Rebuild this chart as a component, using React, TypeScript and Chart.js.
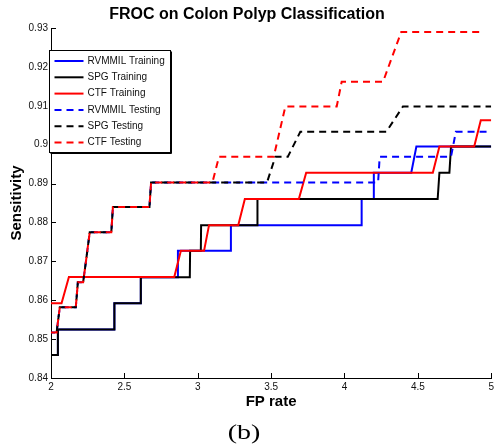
import { useEffect, useRef } from 'react';
import { Chart, registerables } from 'chart.js';

Chart.register(...registerables);

const titleText = 'FROC on Colon Polyp Classification';
const xAxisLabel = 'FP rate';
const yAxisLabel = 'Sensitivity';
const captionText = '(b)';

const seriesLabels = [
  'RVMMIL Training',
  'SPG Training',
  'CTF Training',
  'RVMMIL Testing',
  'SPG Testing',
  'CTF Testing',
];

const xTickValues = [2, 2.5, 3, 3.5, 4, 4.5, 5];
const xTickLabels = ['2', '2.5', '3', '3.5', '4', '4.5', '5'];
const yTickValues = [0.84, 0.85, 0.86, 0.87, 0.88, 0.89, 0.9, 0.91, 0.92, 0.93];
const yTickLabels = ['0.84', '0.85', '0.86', '0.87', '0.88', '0.89', '0.9', '0.91', '0.92', '0.93'];

const rvmmilTrainX = [2, 2.045, 2.047, 2.43, 2.432, 2.61, 2.612, 2.863, 2.865, 3.224, 3.226, 4.115, 4.117, 4.195, 4.2, 4.455, 4.49, 5];
const rvmmilTrainY = [0.8459, 0.8459, 0.8525, 0.8525, 0.8592, 0.8592, 0.8659, 0.8659, 0.8727, 0.8727, 0.8793, 0.8793, 0.886, 0.886, 0.8928, 0.8928, 0.8995, 0.8995];

const spgTrainX = [2, 2.045, 2.047, 2.43, 2.432, 2.61, 2.612, 2.946, 2.948, 3.021, 3.023, 3.405, 3.407, 4.635, 4.647, 4.715, 4.726, 5];
const spgTrainY = [0.8459, 0.8459, 0.8525, 0.8525, 0.8592, 0.8592, 0.8659, 0.8659, 0.8727, 0.8727, 0.8793, 0.8793, 0.886, 0.886, 0.8928, 0.8928, 0.8995, 0.8995];

const ctfTrainX = [2, 2.072, 2.122, 2.84, 2.885, 3.043, 3.077, 3.276, 3.321, 3.689, 3.739, 4.602, 4.647, 4.884, 4.929, 5];
const ctfTrainY = [0.8592, 0.8592, 0.866, 0.866, 0.8727, 0.8727, 0.8793, 0.8793, 0.886, 0.886, 0.8928, 0.8928, 0.8995, 0.8995, 0.9063, 0.9063];

const rvmmilTestX = [2, 2.038, 2.06, 2.169, 2.183, 2.219, 2.242, 2.264, 2.411, 2.422, 2.671, 2.682, 4.229, 4.24, 4.726, 4.759, 5];
const rvmmilTestY = [0.8517, 0.8517, 0.8582, 0.8582, 0.8646, 0.8646, 0.8711, 0.8775, 0.8775, 0.884, 0.884, 0.8903, 0.8903, 0.8969, 0.8969, 0.9033, 0.9033];

const spgTestX = [2, 2.038, 2.06, 2.169, 2.183, 2.219, 2.242, 2.264, 2.411, 2.422, 2.671, 2.682, 3.472, 3.529, 3.614, 3.699, 4.285, 4.398, 5];
const spgTestY = [0.8517, 0.8517, 0.8582, 0.8582, 0.8646, 0.8646, 0.8711, 0.8775, 0.8775, 0.884, 0.884, 0.8903, 0.8903, 0.8969, 0.8969, 0.9033, 0.9033, 0.9098, 0.9098];

const ctfTestX = [2, 2.038, 2.06, 2.169, 2.183, 2.219, 2.242, 2.264, 2.411, 2.422, 2.671, 2.682, 3.1, 3.145, 3.518, 3.597, 3.947, 3.981, 4.263, 4.387, 4.929];
const ctfTestY = [0.8517, 0.8517, 0.8582, 0.8582, 0.8646, 0.8646, 0.8711, 0.8775, 0.8775, 0.884, 0.884, 0.8903, 0.8903, 0.8969, 0.8969, 0.9098, 0.9098, 0.9162, 0.9162, 0.929, 0.929];

const seriesX = [rvmmilTrainX, spgTrainX, ctfTrainX, rvmmilTestX, spgTestX, ctfTestX];
const seriesY = [rvmmilTrainY, spgTrainY, ctfTrainY, rvmmilTestY, spgTestY, ctfTestY];
const seriesColors = ['#0000ff', '#000000', '#ff0000', '#0000ff', '#000000', '#ff0000'];
const seriesDash = [[], [], [], [7, 5], [7, 5], [7, 5]];
const seriesDashOffset = [0, 0, 0, 3, 6, 0];

const FONT = "'Liberation Sans', Arial, Helvetica, sans-serif";

const decorPlugin = {
  id: 'decor',
  afterDraw(chart: any) {
    const ctx = chart.ctx;
    const ca = chart.chartArea;
    const xs = chart.scales.x;
    const ys = chart.scales.y;
    ctx.save();
    // inward tick marks
    ctx.strokeStyle = '#000';
    ctx.lineWidth = 1;
    ctx.beginPath();
    xTickValues.forEach((v) => {
      const px = Math.round(xs.getPixelForValue(v)) + 0.5;
      ctx.moveTo(px, ca.bottom);
      ctx.lineTo(px, ca.bottom - 5);
    });
    yTickValues.forEach((v) => {
      const py = Math.round(ys.getPixelForValue(v)) + 0.5;
      ctx.moveTo(ca.left, py);
      ctx.lineTo(ca.left + 5, py);
    });
    ctx.stroke();

    // legend
    const bx = Math.round(ca.left - 2) + 0.5;
    const by = Math.round(ca.top + 22) + 0.5;
    const bw = 121;
    const bh = 102;
    ctx.fillStyle = '#fff';
    ctx.fillRect(bx, by, bw, bh);
    ctx.strokeStyle = '#000';
    ctx.lineWidth = 1;
    ctx.strokeRect(bx, by, bw, bh);
    ctx.beginPath();
    ctx.moveTo(bx + bw + 1, by + 1);
    ctx.lineTo(bx + bw + 1, by + bh + 1);
    ctx.lineTo(bx + 1, by + bh + 1);
    ctx.stroke();
    ctx.font = `10px ${FONT}`;
    ctx.textBaseline = 'middle';
    ctx.textAlign = 'left';
    chart.data.datasets.forEach((ds: any, i: number) => {
      const ry = by + 10.5 + i * 16.3;
      ctx.beginPath();
      ctx.strokeStyle = ds.borderColor;
      ctx.lineWidth = 2;
      ctx.setLineDash(ds.borderDash || []);
      ctx.lineDashOffset = 0;
      ctx.moveTo(bx + 5, ry);
      ctx.lineTo(bx + 34, ry);
      ctx.stroke();
      ctx.setLineDash([]);
      ctx.fillStyle = '#111';
      ctx.fillText(ds.label, bx + 38, ry);
    });

    // caption
    ctx.font = `20px 'Liberation Serif', 'DejaVu Serif', serif`;
    ctx.fillStyle = '#000';
    ctx.textAlign = 'center';
    ctx.textBaseline = 'alphabetic';
    ctx.translate(244, 439);
    ctx.scale(1.4, 1);
    ctx.fillText(captionText, 0, 0);
    ctx.restore();
  },
};

export default function App() {
  const ref = useRef<HTMLCanvasElement>(null);
  useEffect(() => {
    document.body.style.margin = '0';
    const canvas = ref.current;
    if (!canvas) return;
    const datasets = seriesLabels.map((label, i) => ({
      label,
      data: seriesX[i].map((x, j) => ({ x, y: seriesY[i][j] })),
      borderColor: seriesColors[i],
      backgroundColor: seriesColors[i],
      borderWidth: 2,
      borderDash: seriesDash[i],
      borderDashOffset: seriesDashOffset[i],
      pointRadius: 0,
      tension: 0,
      fill: false,
      order: seriesLabels.length - i,
    }));
    const chart = new Chart(canvas, {
      type: 'line',
      data: { datasets },
      plugins: [decorPlugin],
      options: {
        responsive: false,
        animation: false,
        devicePixelRatio: 1,
        parsing: true,
        layout: { padding: { left: 0, right: 3, top: 0, bottom: 0 } },
        plugins: {
          legend: { display: false },
          tooltip: { enabled: false },
          title: {
            display: true,
            text: titleText,
            color: '#000',
            font: { family: FONT, size: 16, weight: 'bold' },
            padding: { top: 4.7, bottom: 4.1 },
          },
        },
        scales: {
          x: {
            type: 'linear',
            min: 2,
            max: 5,
            grid: { display: false, drawTicks: false },
            border: { display: true, color: '#000', width: 1 },
            afterBuildTicks: (s: any) => {
              s.ticks = xTickValues.map((v) => ({ value: v }));
            },
            afterFit: (s: any) => {
              s.height = 66;
            },
            ticks: {
              autoSkip: false,
              maxRotation: 0,
              padding: 3,
              color: '#111',
              font: { family: FONT, size: 10 },
              callback: (_v: any, idx: number) => xTickLabels[idx],
            },
            title: {
              display: true,
              text: xAxisLabel,
              color: '#000',
              font: { family: FONT, size: 15, weight: 'bold' },
              padding: { top: 0, bottom: 33.5 },
            },
          },
          y: {
            type: 'linear',
            min: 0.84,
            max: 0.93,
            grid: { display: false, drawTicks: false },
            border: { display: true, color: '#000', width: 1 },
            afterBuildTicks: (s: any) => {
              s.ticks = yTickValues.map((v) => ({ value: v }));
            },
            afterFit: (s: any) => {
              s.width = 51;
            },
            ticks: {
              autoSkip: false,
              padding: 3,
              color: '#111',
              font: { family: FONT, size: 10 },
              callback: (_v: any, idx: number) => yTickLabels[idx],
            },
            title: {
              display: true,
              text: yAxisLabel,
              color: '#000',
              font: { family: FONT, size: 15, weight: 'bold' },
              padding: { top: 7.8, bottom: 0 },
            },
          },
        },
      },
    } as any);
    return () => chart.destroy();
  }, []);
  return <canvas ref={ref} width={497} height={444} style={{ display: 'block' }} />;
}
